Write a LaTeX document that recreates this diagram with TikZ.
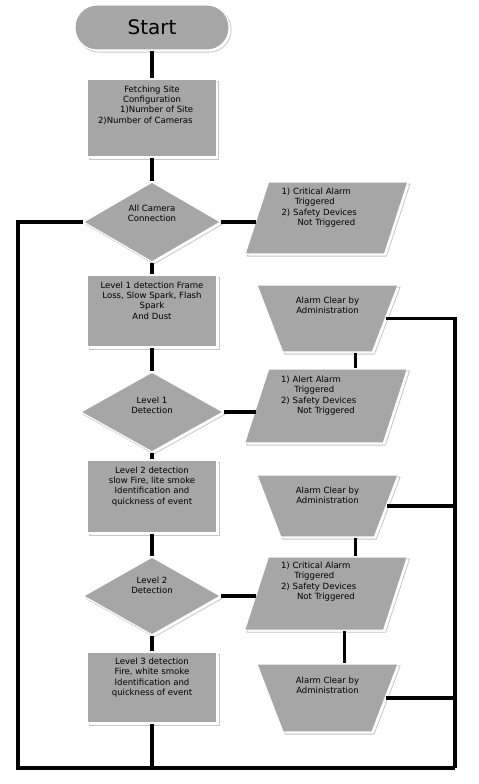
\documentclass[tikz,border=0pt]{standalone}
\usepackage{fontspec}
\setmainfont{DejaVu Sans}
\usepackage{tikz}
\usetikzlibrary{shapes.geometric, shadows}

\begin{document}
\begin{tikzpicture}[
		x=0.75pt, y=-0.75pt,
		every node/.style={
				align=center, inner sep=0pt,
				text=black,
				font=\fontsize{6.4}{7.8}\selectfont
			},
		shape base/.style={
				draw=white, line width=0.8pt, fill=gray!70,
				drop shadow={shadow xshift=1.6pt, shadow yshift=-1.6pt,
						fill=white, draw=gray!45, line width=0.6pt, opacity=1}
			},
		terminal/.style={shape base, rectangle, rounded corners=16.5pt,
				minimum width=115.5pt, minimum height=33.75pt,
				font=\fontsize{15}{18}\selectfont},
		process/.style={shape base, rectangle,
				minimum width=97.5pt, text height=33.2pt, text depth=20.8pt},
		decision/.style={shape base, diamond, aspect=1.7,
				minimum width=103pt, minimum height=60pt, text height=12.5pt},
		alarm/.style={shape base, trapezium,
				trapezium left angle=72, trapezium right angle=108, trapezium stretches body,
				minimum width=122pt, text width=67.5pt, align=left,
				text height=9.3pt, text depth=45.2pt},
		clear/.style={shape base, trapezium,
				trapezium left angle=111, trapezium right angle=111, trapezium stretches body,
				minimum width=105.75pt, text height=21.6pt, text depth=28.65pt},
		line/.style={draw=black, line width=2.4pt}
	]
	\useasboundingbox (0,0) rectangle (478,784);

	% main column
	\node[terminal] (start) at (152,27.5) {Start};
	\node[process, minimum width=96.75pt, text depth=25.3pt] (fetch) at (152,118)
	{Fetching Site\\Configuration\\\hspace*{7pt}1)Number of Site\\2)Number of Cameras\hspace*{10pt}};
	\node[decision, text depth=13.4pt] (conn) at (152,222) {All Camera\\Connection};
	\node[process] (lvl1) at (152,311) {Level 1 detection Frame\\Loss, Slow Spark, Flash\\Spark\\And Dust};
	\node[decision, minimum width=107pt, text depth=10.4pt] (det1) at (152,412) {Level 1\\Detection};
	\node[process, text depth=21.55pt] (lvl2) at (152,496.5) {Level 2 detection\\slow Fire, lite smoke\\Identification and\\quickness of event};
	\node[decision, minimum height=58.5pt, text depth=16.4pt] (det2) at (152,596) {Level 2\\Detection};
	\node[process, text height=32.7pt, text depth=20.55pt] (lvl3) at (152,687.5) {Level 3 detection\\Fire, white smoke\\Identification and\\quickness of event};

	% alarms
	\node[alarm, text height=9.2pt, text depth=44.8pt] (crit1) at (326.5,218) {1) Critical Alarm\\\hspace*{10pt}Triggered\\2) Safety Devices\\\hspace*{12pt}Not Triggered};
	\node[clear] (clear1) at (327.5,318.5) {Alarm Clear by\\Administration};
	\node[alarm, text height=9.9pt, text depth=45.6pt] (alert) at (326,406) {1) Alert Alarm\\\hspace*{10pt}Triggered\\2) Safety Devices\\\hspace*{12pt}Not Triggered};
	\node[clear, text depth=24.9pt] (clear2) at (327.5,506) {Alarm Clear by\\Administration};
	\node[alarm, text height=8.5pt, text depth=46.3pt] (crit2) at (326,593.5) {1) Critical Alarm\\\hspace*{10pt}Triggered\\2) Safety Devices\\\hspace*{12pt}Not Triggered};
	\node[clear, text height=22.3pt, text depth=28.7pt] (clear3) at (327.5,698) {Alarm Clear by\\Administration};

	\coordinate (bl) at (18,768);
	\coordinate (br) at (455,768);

	\draw[line] (start.south) -- (fetch.north);
	\draw[line] (fetch.south) -- (conn.north);
	\draw[line] (conn.west) -- (conn.west -| bl) -- (bl) -- (br);
	\draw[line] (conn.east) -- (conn.east -| crit1.west);
	\draw[line] (conn.south) -- (lvl1.north);
	\draw[line] (lvl1.south) -- (det1.north);
	\draw[line] (det1.east) -- (det1.east -| alert.west);
	\draw[line] ([xshift=21pt]clear1.south) -- ([xshift=21pt]clear1.south |- alert.north);
	\draw[line] (clear1.east) -| (br);
	\draw[line] (det1.south) -- (lvl2.north);
	\draw[line] (lvl2.south) -- (det2.north);
	\draw[line] (det2.east) -- (det2.east -| crit2.west);
	\draw[line] ([xshift=21pt]clear2.south) -- ([xshift=21pt]clear2.south |- crit2.north);
	\draw[line] (clear2.east) -- (clear2.east -| br);
	\draw[line] ([xshift=14pt]crit2.south) -- ([xshift=14pt]crit2.south |- clear3.north);
	\draw[line] (clear3.east) -- (clear3.east -| br);
	\draw[line] (det2.south) -- (lvl3.north);
	\draw[line] (lvl3.south) -- (lvl3.south |- bl);
\end{tikzpicture}
\end{document}
